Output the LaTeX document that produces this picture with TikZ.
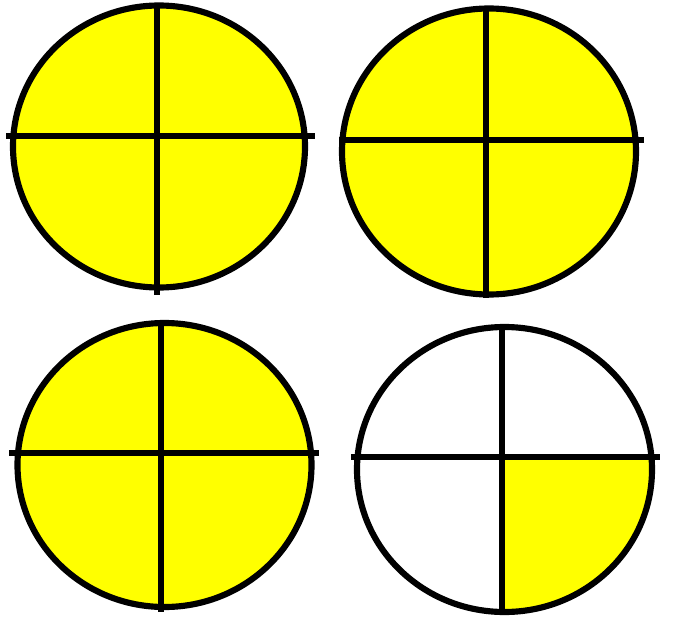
\documentclass[tikz,border=0pt]{standalone}

\definecolor{wheelyellow}{RGB}{255,255,0}

\newcommand{\wheelellipse}[3]% center, xdim, ydim
    {(#1) ellipse (#2 and #3)
}

\begin{document}
\begin{tikzpicture}[x=0.02cm, y=-0.02cm,
    rim/.style={black, line width=3.5pt},
    cross/.style={black, line width=3.5pt}
]
    \useasboundingbox (0,0) rectangle (679,642);

    % Top left wheel (all quarters filled)
    \fill[wheelyellow] \wheelellipse{159,146.5}{146}{141};
    \draw[rim] \wheelellipse{159,146.5}{146}{141};
    \draw[cross] (6,136) -- (315,136);
    \draw[cross] (157,5) -- (157,295);

    % Top right wheel (all quarters filled)
    \fill[wheelyellow] \wheelellipse{489,151.5}{147}{143};
    \draw[rim] \wheelellipse{489,151.5}{147}{143};
    \draw[cross] (339,140) -- (644,140);
    \draw[cross] (486,9) -- (486,298);

    % Bottom left wheel (all quarters filled)
    \fill[wheelyellow] \wheelellipse{164.5,465}{147}{142};
    \draw[rim] \wheelellipse{164.5,465}{147}{142};
    \draw[cross] (9,453) -- (319,453);
    \draw[cross] (161,323) -- (161,612);

    % Bottom right wheel (only the lower right quarter filled)
    \begin{scope}
        \clip (502,457) rectangle (679,642);
        \fill[wheelyellow] \wheelellipse{504.5,469.5}{147.5}{142.5};
    \end{scope}
    \draw[rim] \wheelellipse{504.5,469.5}{147.5}{142.5};
    \draw[cross] (351,457) -- (660,457);
    \draw[cross] (502,327) -- (502,615);

\end{tikzpicture}
\end{document}
